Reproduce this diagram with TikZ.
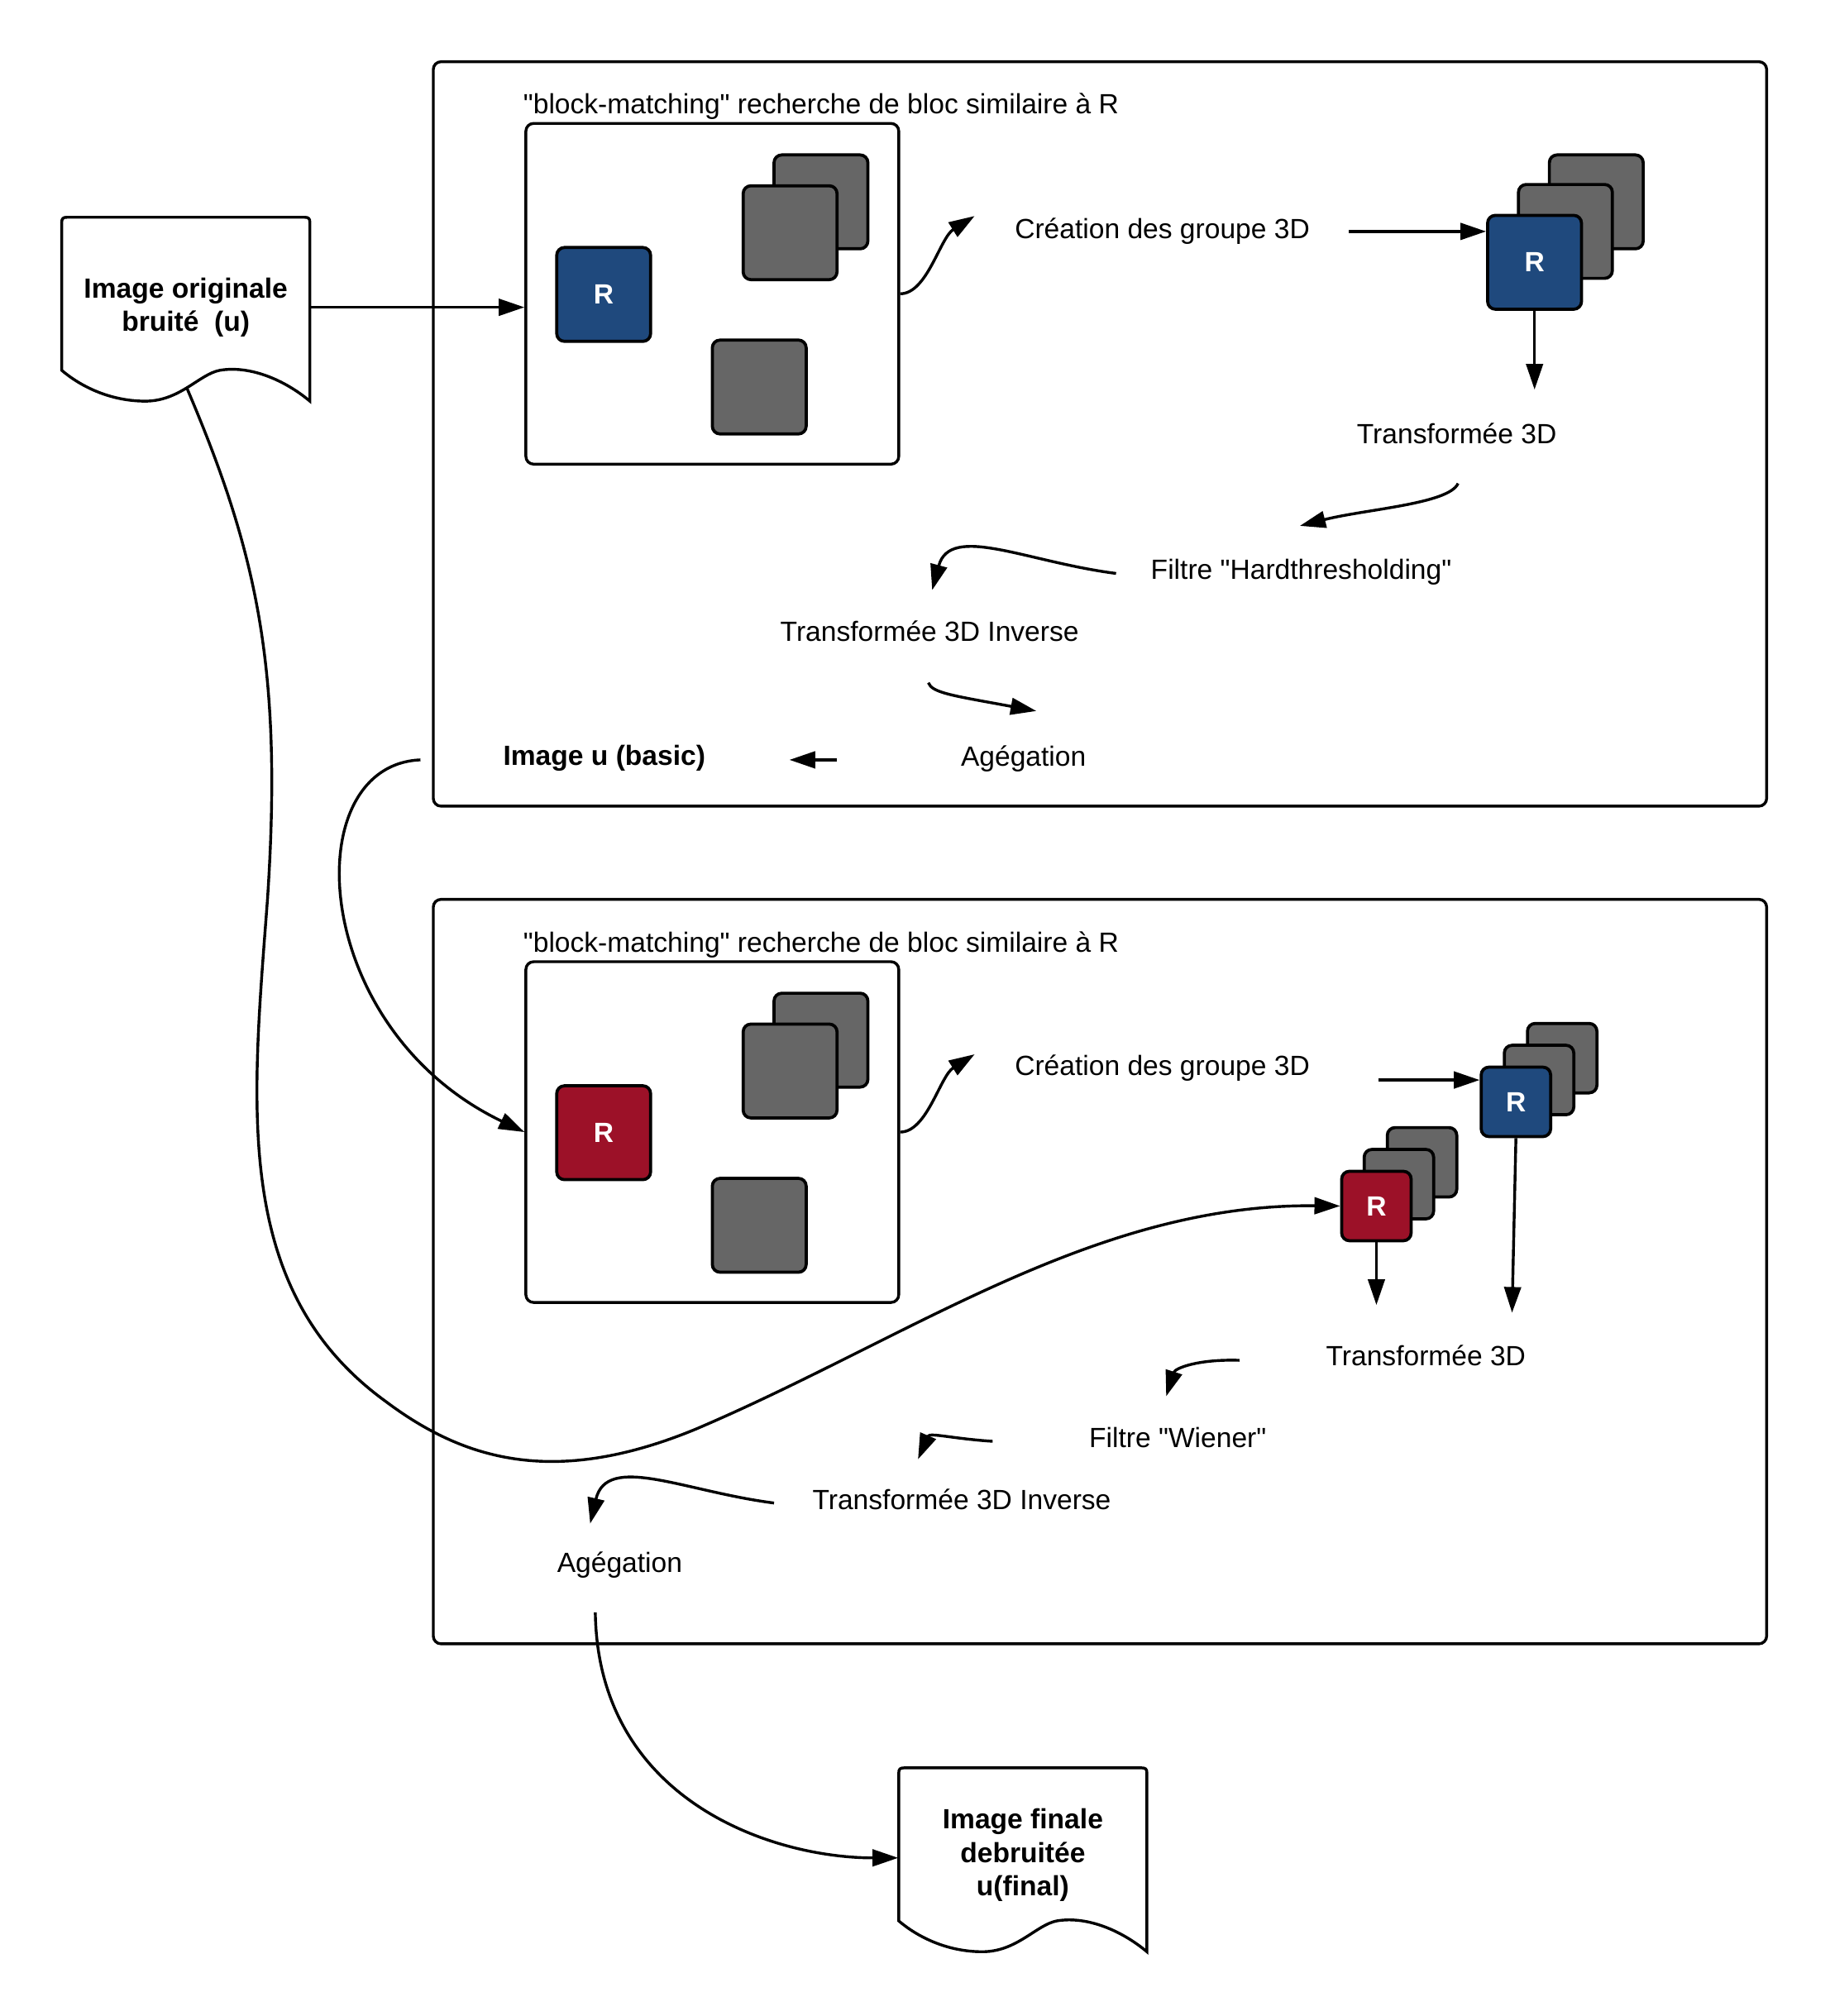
\documentclass[tikz,border=0pt]{standalone}
\usepackage{fontspec}
\setmainfont{Liberation Sans}
\usetikzlibrary{arrows.meta}
\definecolor{rblue}{HTML}{1F497D}
\definecolor{rred}{HTML}{9C1128}
\definecolor{bgray}{HTML}{666666}
\tikzset{every node/.style={font=\fontsize{10.8}{13}\selectfont},
 stage/.style={draw, line width=1.1pt, rounded corners=3pt, minimum width=518.5pt, minimum height=289.5pt},
 imgbox/.style={draw, line width=1.1pt, rounded corners=3pt, minimum width=145pt, minimum height=132.5pt},
 blk/.style={draw, line width=1.2pt, rounded corners=3pt, fill=bgray, minimum size=36.5pt, inner sep=0pt},
 sblk/.style={blk, minimum size=27pt},
 rlab/.style={text=white, font=\fontsize{10.8}{13}\selectfont\bfseries},
 doctext/.style={align=center, minimum width=96.5pt, font=\fontsize{10.8}{13}\selectfont\bfseries},
 docline/.style={draw, line width=1.1pt},
 wire/.style={draw, line width=1.1pt},
 arr/.style={wire, -{Triangle[length=10pt,width=6.5pt]}},
 }

\begin{document}
\begin{tikzpicture}[x=0.5pt,y=-0.5pt]
    \useasboundingbox (0,0) rectangle (1423,1568);
    % image bruitee
    \draw[docline] (48,288) -- (48,173) .. controls (48,170) and (49,169) .. (52,169) -- (237,169) .. controls (240,169) and (241,170) .. (241,173) -- (241,312) .. controls (222,296) and (195,284) .. (171,288) .. controls (155,291) and (140,312) .. (113,312) .. controls (85,312) and (62,300) .. (48,288) -- cycle;
    \node[doctext] (orig) at (144.5,239) {Image originale\\bruité~~(u)};
    \coordinate (origB) at (145,301);

    % premiere etape
    \node[stage] (boxA) at (855.5,337.5) {};
    \node[anchor=west] (ttlA) at (400,83) {\textquotedbl block-matching\textquotedbl{} recherche de bloc similaire à R};
    \node[imgbox] (imgA) at (554,228.5) {};
    \node[blk, fill=rblue, rlab] (rA) at (469.5,229) {R};
    \node[blk] (gA1) at (638.5,157) {};
    \node[blk] (gA2) at (614.5,181) {};
    \node[blk] (gA3) at (590.5,301) {};
    \node (creA) at (904,180) {Création des groupe 3D};
    \node[blk] (sA3) at (1241.5,157) {};
    \node[blk] (sA2) at (1217.5,180) {};
    \node[blk, fill=rblue, rlab] (sA1) at (1193.5,204) {R};
    \node (trA) at (1133,337) {Transformée 3D};
    \node (filA) at (1012,445) {Filtre \textquotedbl Hardthresholding\textquotedbl};
    \node (invA) at (723,491) {Transformée 3D Inverse};
    \node (agA) at (796,590) {Agégation};
    \node[font=\fontsize{10.8}{13}\selectfont\bfseries] (basic) at (470,590) {Image u (basic)};
    \coordinate (a1) at (758,168);
    \coordinate (cA) at (1049,180);
    \coordinate (tA) at (1193.5,303);
    \coordinate (basicL) at (327,591);

    \draw[arr] (orig.east) -- (orig.east -| imgA.west);
    \draw[arr] (imgA.east) .. controls +(21,0) and +(-27,17) .. (a1);
    \draw[arr] (cA) -- (cA -| sA1.west);
    \draw[arr] (sA1.south) -- (tA);
    \draw[arr] (1134,376) .. controls (1127,392) and (1062,396) .. (1011,409);
    \draw[arr] (868,446) .. controls (798,437) and (739,407) .. (725,459);
    \draw[arr] (722,531) .. controls (725,539) and (741,541) .. (806,553);
    \draw[arr] (651,591) -- (614,591);

    % deuxieme etape
    \node[stage] (boxB) at (855.5,989) {};
    \node[anchor=west] (ttlB) at (400,735) {\textquotedbl block-matching\textquotedbl{} recherche de bloc similaire à R};
    \node[imgbox] (imgB) at (554,880.5) {};
    \node[blk, fill=rred, rlab] (rB) at (469.5,881) {R};
    \node[blk] (gB1) at (638.5,809) {};
    \node[blk] (gB2) at (614.5,833) {};
    \node[blk] (gB3) at (590.5,953) {};
    \node (creB) at (904,831) {Création des groupe 3D};
    \node[sblk] (sB3) at (1215,823) {};
    \node[sblk] (sB2) at (1197,840) {};
    \node[sblk, fill=rblue, rlab] (sB1) at (1179,857) {R};
    \node[sblk] (sC3) at (1106,904) {};
    \node[sblk] (sC2) at (1088,921) {};
    \node[sblk, fill=rred, rlab] (sC1) at (1070.5,938) {R};
    \node (trB) at (1109,1054) {Transformée 3D};
    \node (filB) at (916,1118) {Filtre \textquotedbl Wiener\textquotedbl};
    \node (invB) at (748,1166) {Transformée 3D Inverse};
    \node (agB) at (482,1217) {Agégation};
    \coordinate (b1) at (758,820);
    \coordinate (cB) at (1072,840);
    \coordinate (tB) at (1176,1021);
    \coordinate (tC) at (1070.5,1015);
    \coordinate (agBS) at (463,1254);

    \draw[arr] (basicL) .. controls (230,595) and (240,800) .. (imgB.west);
    \draw[arr] (origB) .. controls (200,430) and (220,520) .. (208,700) .. controls (196,860) and (180,1003) .. (300,1090) .. controls (360,1135) and (430,1157) .. (540,1112) .. controls (705,1042) and (850,936) .. (sC1.west);
    \draw[arr] (imgB.east) .. controls +(21,0) and +(-27,17) .. (b1);
    \draw[arr] (cB) -- (cB -| sB1.west);
    \draw[arr] (sB1.south) -- (tB);
    \draw[arr] (sC1.south) -- (tC);
    \draw[arr] (964,1058) .. controls (932,1057) and (914,1064) .. (907,1086);
    \draw[arr] (772,1121) .. controls (741,1119) and (723,1114) .. (714,1135);
    \draw[arr] (602,1169) .. controls (532,1160) and (472,1130) .. (459,1185);

    % image finale
    \draw[docline, shift={(651,1206)}] (48,288) -- (48,173) .. controls (48,170) and (49,169) .. (52,169) -- (237,169) .. controls (240,169) and (241,170) .. (241,173) -- (241,312) .. controls (222,296) and (195,284) .. (171,288) .. controls (155,291) and (140,312) .. (113,312) .. controls (85,312) and (62,300) .. (48,288) -- cycle;
    \node[doctext] (fin) at (795.5,1443) {Image finale\\debruitée\\u(final)};
    \draw[arr] (agBS) .. controls (465,1400) and (600,1445) .. (fin.west |- 0,1445);
\end{tikzpicture}
\end{document}
